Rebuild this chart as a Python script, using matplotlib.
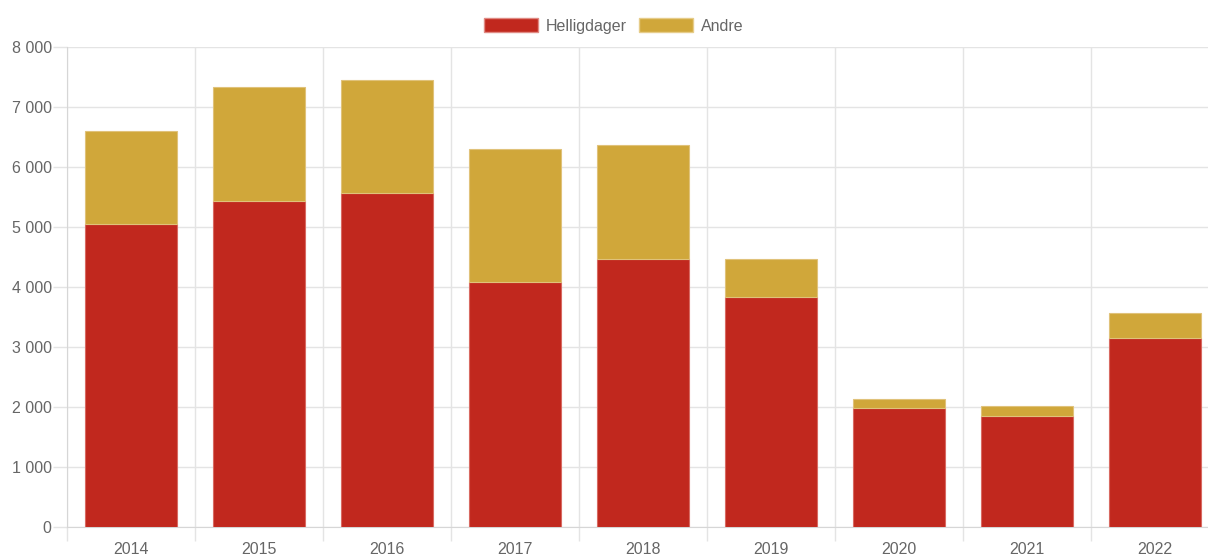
import matplotlib.pyplot as plt
import numpy as np
from matplotlib.patches import Patch
from matplotlib.ticker import FuncFormatter

plt.rcParams['font.family'] = ['Liberation Sans', 'DejaVu Sans']

years = ['2014', '2015', '2016', '2017', '2018', '2019', '2020', '2021', '2022']
helligdager = [5050, 5430, 5570, 4080, 4470, 3830, 1980, 1850, 3150]
andre = [1550, 1900, 1880, 2220, 1900, 640, 150, 170, 420]

red = '#c1281e'
gold = '#d0a73a'
grey_txt = '#666666'
grid_col = '#e4e4e4'

fig = plt.figure(figsize=(12.08, 5.59), dpi=100)
# plot area runs a little past the right edge, as in the reference
ax = fig.add_axes([67 / 1208, 32 / 559, 1152 / 1208, 480 / 559])

x = np.arange(len(years))
ax.bar(x, helligdager, width=0.72, color=red, edgecolor='#d86a62', linewidth=0.8, zorder=3)
ax.bar(x, andre, width=0.72, bottom=helligdager, color=gold, edgecolor='#e0c27a',
       linewidth=0.8, zorder=3)

ax.set_xlim(-0.5, len(years) - 0.5)
ax.set_ylim(0, 8000)

ax.set_xticks(x)
ax.set_xticklabels(years)
ax.set_xticks(np.arange(-0.5, len(years)), minor=True)
ax.tick_params(axis='x', which='major', length=0, pad=11, labelsize=11.5, labelcolor=grey_txt)
ax.tick_params(axis='x', which='minor', length=10, color=grid_col, width=1)
ax.grid(axis='x', which='minor', color=grid_col, linewidth=1, zorder=0)

ax.set_yticks(np.arange(0, 8001, 1000))
ax.yaxis.set_major_formatter(FuncFormatter(lambda v, p: f'{int(v):,}'.replace(',', ' ')))
ax.tick_params(axis='y', length=10, color=grid_col, width=1, pad=1, labelsize=11.5,
               labelcolor=grey_txt)
ax.grid(axis='y', which='major', color=grid_col, linewidth=1, zorder=0)

for s in ['top', 'right']:
    ax.spines[s].set_visible(False)
ax.spines['left'].set_color('#d6d6d6')
ax.spines['bottom'].set_color('#d6d6d6')

handles = [Patch(facecolor=red, edgecolor='#e08a84', label='Helligdager'),
           Patch(facecolor=gold, edgecolor='#e6cc8a', label='Andre')]
fig.legend(handles=handles, loc='center', bbox_to_anchor=(0.508, 1 - 26 / 559), ncol=2,
           frameon=False, fontsize=11.5, labelcolor=grey_txt, handlelength=3.4,
           handleheight=1.0, handletextpad=0.5, columnspacing=0.75)

fig.savefig('out.png', dpi=100)
